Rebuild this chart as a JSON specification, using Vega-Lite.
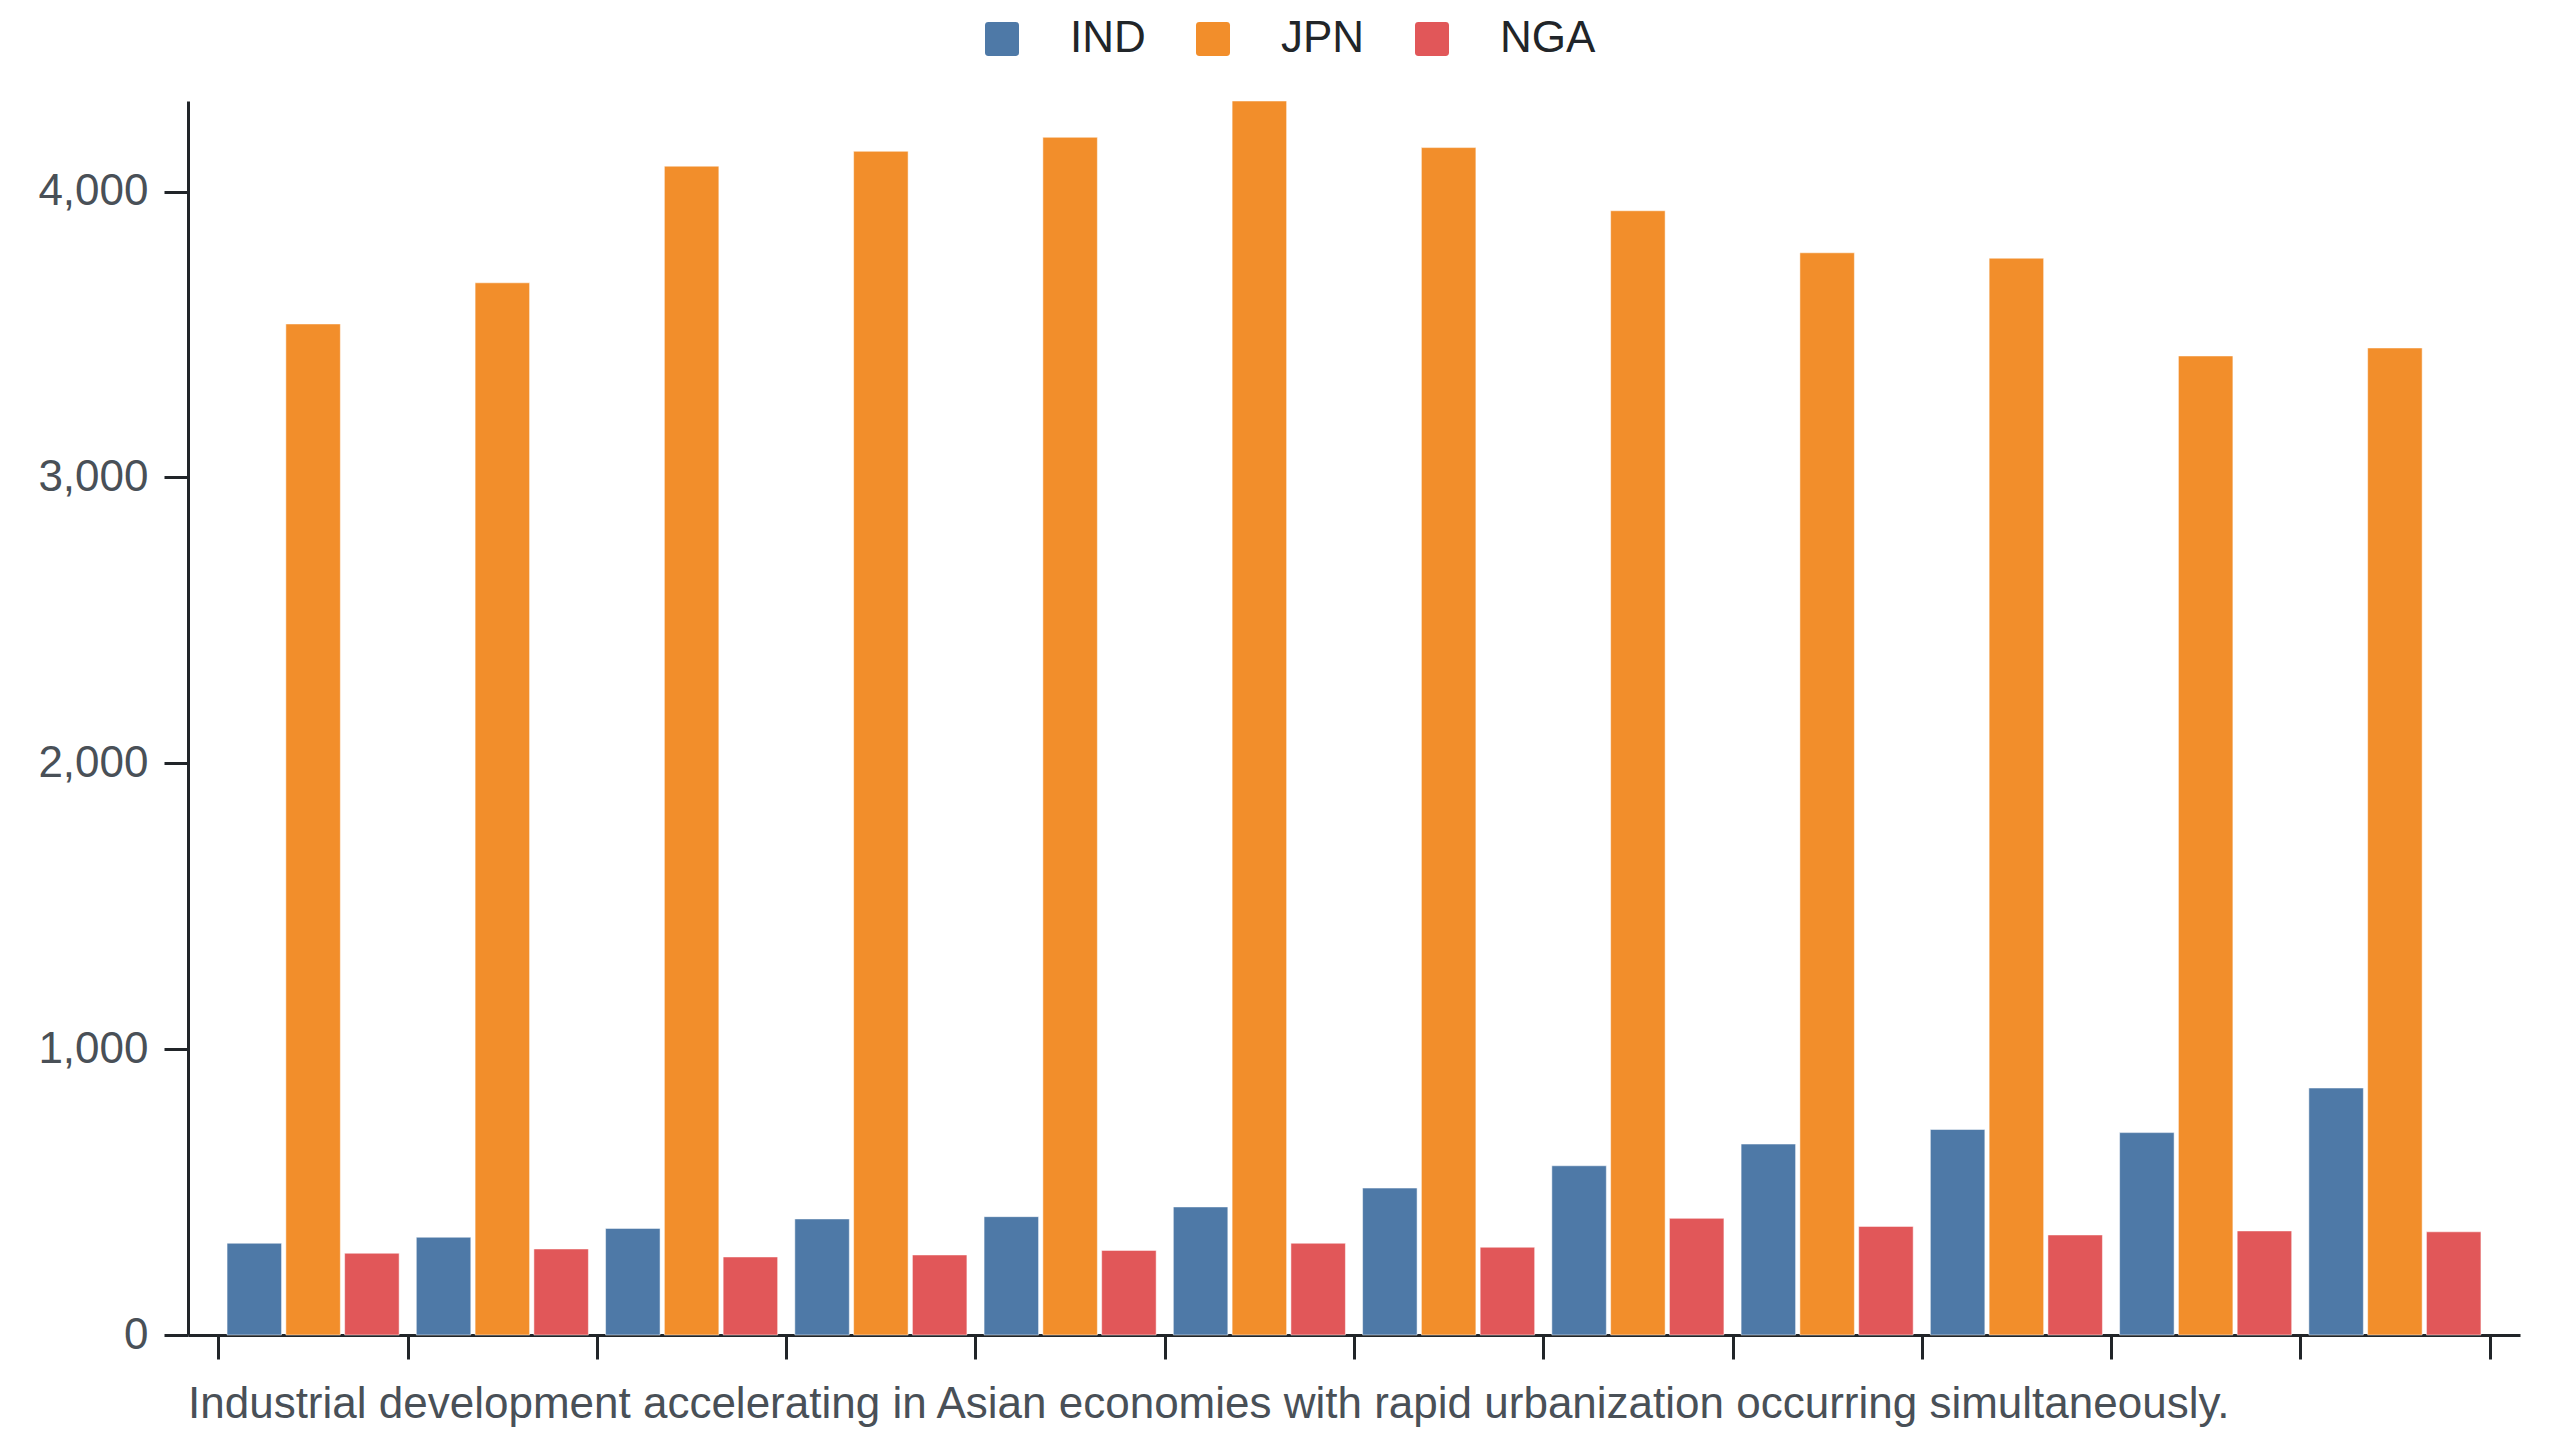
{
  "$schema": "https://vega.github.io/schema/vega-lite/v6.json",
  "autosize": "none",
  "width": 2332,
  "height": 1234,
  "padding": {"left": 188, "top": 101, "right": 40, "bottom": 105},
  "background": "white",
  "config": {
    "view": {"stroke": null},
    "font": "Liberation Sans"
  },
  "title": {
    "text": "Industrial development accelerating in Asian economies with rapid urbanization occurring simultaneously.",
    "orient": "bottom",
    "anchor": "start",
    "frame": "group",
    "offset": 22,
    "fontSize": 44,
    "fontWeight": "normal",
    "font": "Liberation Sans",
    "color": "#495057"
  },
  "data": {
    "values": [
      {"group": 1, "country": "IND", "value": 321},
      {"group": 1, "country": "JPN", "value": 3537},
      {"group": 1, "country": "NGA", "value": 286},
      {"group": 2, "country": "IND", "value": 342},
      {"group": 2, "country": "JPN", "value": 3681},
      {"group": 2, "country": "NGA", "value": 301},
      {"group": 3, "country": "IND", "value": 373},
      {"group": 3, "country": "JPN", "value": 4089},
      {"group": 3, "country": "NGA", "value": 273},
      {"group": 4, "country": "IND", "value": 406},
      {"group": 4, "country": "JPN", "value": 4141},
      {"group": 4, "country": "NGA", "value": 280},
      {"group": 5, "country": "IND", "value": 414},
      {"group": 5, "country": "JPN", "value": 4190},
      {"group": 5, "country": "NGA", "value": 296},
      {"group": 6, "country": "IND", "value": 448},
      {"group": 6, "country": "JPN", "value": 4317},
      {"group": 6, "country": "NGA", "value": 321},
      {"group": 7, "country": "IND", "value": 514},
      {"group": 7, "country": "JPN", "value": 4154},
      {"group": 7, "country": "NGA", "value": 307},
      {"group": 8, "country": "IND", "value": 592},
      {"group": 8, "country": "JPN", "value": 3933},
      {"group": 8, "country": "NGA", "value": 408},
      {"group": 9, "country": "IND", "value": 668},
      {"group": 9, "country": "JPN", "value": 3786},
      {"group": 9, "country": "NGA", "value": 380},
      {"group": 10, "country": "IND", "value": 719},
      {"group": 10, "country": "JPN", "value": 3767},
      {"group": 10, "country": "NGA", "value": 350},
      {"group": 11, "country": "IND", "value": 708},
      {"group": 11, "country": "JPN", "value": 3425},
      {"group": 11, "country": "NGA", "value": 364},
      {"group": 12, "country": "IND", "value": 864},
      {"group": 12, "country": "JPN", "value": 3453},
      {"group": 12, "country": "NGA", "value": 361}
    ]
  },
  "mark": {"type": "bar", "stroke": "white", "strokeWidth": 1, "strokeOpacity": 0.5},
  "encoding": {
    "x": {
      "field": "group",
      "type": "ordinal",
      "scale": {"paddingInner": 0, "paddingOuter": 0.161},
      "axis": {
        "title": null,
        "labels": false,
        "tickBand": "extent",
        "tickSize": 24,
        "tickWidth": 3,
        "tickColor": "#212529",
        "domainWidth": 3,
        "domainColor": "#212529"
      }
    },
    "xOffset": {
      "field": "country",
      "type": "nominal",
      "scale": {"paddingInner": 0.073, "paddingOuter": 0.146}
    },
    "y": {
      "field": "value",
      "type": "quantitative",
      "scale": {"nice": false, "zero": true},
      "axis": {
        "title": null,
        "values": [0, 1000, 2000, 3000, 4000],
        "format": ",d",
        "grid": false,
        "tickSize": 24,
        "tickWidth": 3,
        "tickColor": "#212529",
        "domainWidth": 3,
        "domainColor": "#212529",
        "labelFontSize": 44,
        "labelColor": "#495057",
        "labelPadding": 16,
        "labelFont": "Liberation Sans"
      }
    },
    "color": {
      "field": "country",
      "type": "nominal",
      "scale": {"domain": ["IND", "JPN", "NGA"], "range": ["#4e79a7", "#f28e2b", "#e15759"]},
      "legend": {
        "title": null,
        "orient": "none",
        "direction": "horizontal",
        "legendX": 792,
        "legendY": -84,
        "padding": 0,
        "symbolType": "M -0.8 -1 L 0.8 -1 Q 1 -1 1 -0.8 L 1 0.8 Q 1 1 0.8 1 L -0.8 1 Q -1 1 -1 0.8 L -1 -0.8 Q -1 -1 -0.8 -1 Z",
        "symbolSize": 1156,
        "symbolOpacity": 1,
        "symbolStrokeWidth": 0,
        "labelFontSize": 44,
        "labelFont": "Liberation Sans",
        "labelColor": "#212529",
        "labelOffset": 46,
        "columnPadding": 45
      }
    }
  }
}
